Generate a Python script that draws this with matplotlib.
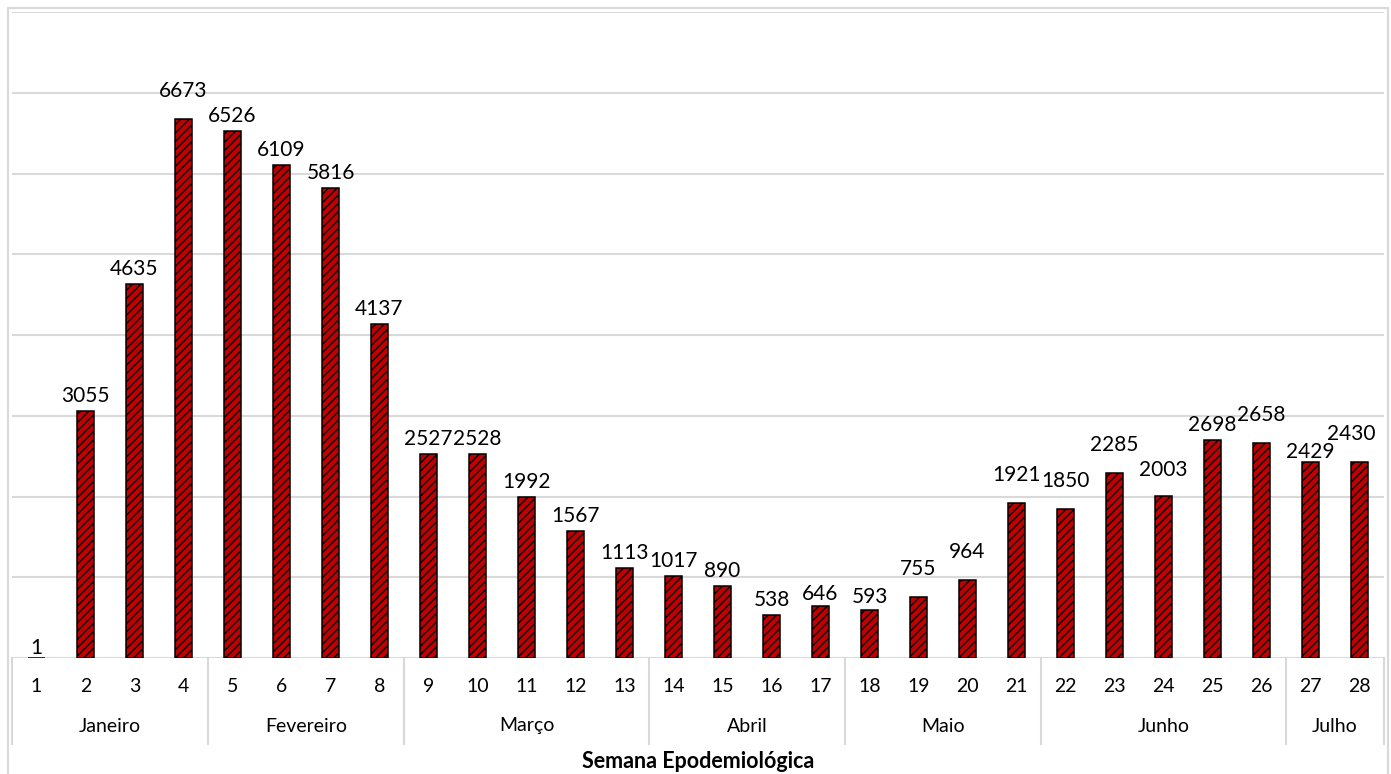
import matplotlib
matplotlib.use("Agg")
import matplotlib.pyplot as plt
from matplotlib.patches import Rectangle
from matplotlib.lines import Line2D

# ---------------- data ----------------
weeks = list(range(1, 29))
cases = [1, 3055, 4635, 6673, 6526, 6109, 5816, 4137, 2527, 2528, 1992, 1567, 1113,
         1017, 890, 538, 646, 593, 755, 964, 1921, 1850, 2285, 2003, 2698, 2658,
         2429, 2430]
months = ["Janeiro", "Fevereiro", "Março", "Abril", "Maio", "Junho", "Julho"]
month_weeks = [4, 4, 5, 4, 4, 5, 2]   # number of weeks in each month group
x_title = "Semana Epodemiológica"

# ---------------- style ----------------
plt.rcParams['font.family'] = ['Lato', 'DejaVu Sans']
plt.rcParams['hatch.linewidth'] = 1.0
plt.rcParams['hatch.color'] = 'black'

W, H, DPI = 1391, 774, 100
fig = plt.figure(figsize=(W / DPI, H / DPI), dpi=DPI)
fig.patch.set_facecolor('white')

# outer chart border
fig.patches.append(Rectangle((8 / W, -0.01), (1388 - 8) / W, 1 - 8 / H + 0.01,
                             transform=fig.transFigure, fill=False,
                             edgecolor='#D9D9D9', linewidth=1.5, zorder=0))

ax_left, ax_right, ax_top, ax_bot = 12, 1384, 12, 658
ax = fig.add_axes([ax_left / W, 1 - ax_bot / H, (ax_right - ax_left) / W, (ax_bot - ax_top) / H])
ax.set_xlim(0.5, 28.5)
ax.set_ylim(0, 8000)
for s in ax.spines.values():
    s.set_visible(False)
ax.set_yticks(range(0, 8001, 1000))
ax.yaxis.grid(True, color='#D9D9D9', linewidth=1.5)
ax.set_axisbelow(True)
ax.tick_params(left=False, bottom=False, labelleft=False, labelbottom=False)
ax.set_xticks([])
ax.axhline(0, color='#D9D9D9', linewidth=2, zorder=1)

ax.bar(weeks, cases, width=0.34, color='#C00000', edgecolor='black',
       linewidth=1.1, hatch='////', zorder=3)

# data labels (Excel-like, some manually moved)
raise_px = {4: 13, 19: 13, 20: 13, 21: 13, 22: 13, 23: 13, 24: 11, 26: 13,
            28: 13, 27: -5, 1: -5, 17: -3, 18: -2}
shift_px = {28: -8}
for w, v in zip(weeks, cases):
    dy = (15 + raise_px.get(w, 0)) * 0.72
    dx = shift_px.get(w, 0) * 0.72
    ax.annotate(f"{v}", (w, v), xytext=(dx, dy), textcoords='offset points',
                ha='center', va='center', fontsize=15, color='black', zorder=5,
                annotation_clip=False)

# category axis
axh = ax_bot - ax_top
trans = ax.get_xaxis_transform()
for w in weeks:
    ax.text(w, -(686 - ax_bot) / axh, str(w), transform=trans, ha='center',
            va='center', fontsize=14, color='black')

start = 0.5
bounds = [start]
for m, n in zip(months, month_weeks):
    end = start + n
    ax.text((start + end) / 2, -(726 - ax_bot) / axh, m, transform=trans,
            ha='center', va='center', fontsize=14, color='black')
    bounds.append(end)
    start = end
for b in bounds:
    ax.add_line(Line2D([b, b], [0, -(744 - ax_bot) / axh], transform=trans,
                       color='#D9D9D9', linewidth=1.5, clip_on=False))

ax.text(14.5, -(762 - ax_bot) / axh, x_title, transform=trans, ha='center',
        va='center', fontsize=15.5, fontweight='bold', color='black')

fig.savefig("out.png", dpi=DPI)
